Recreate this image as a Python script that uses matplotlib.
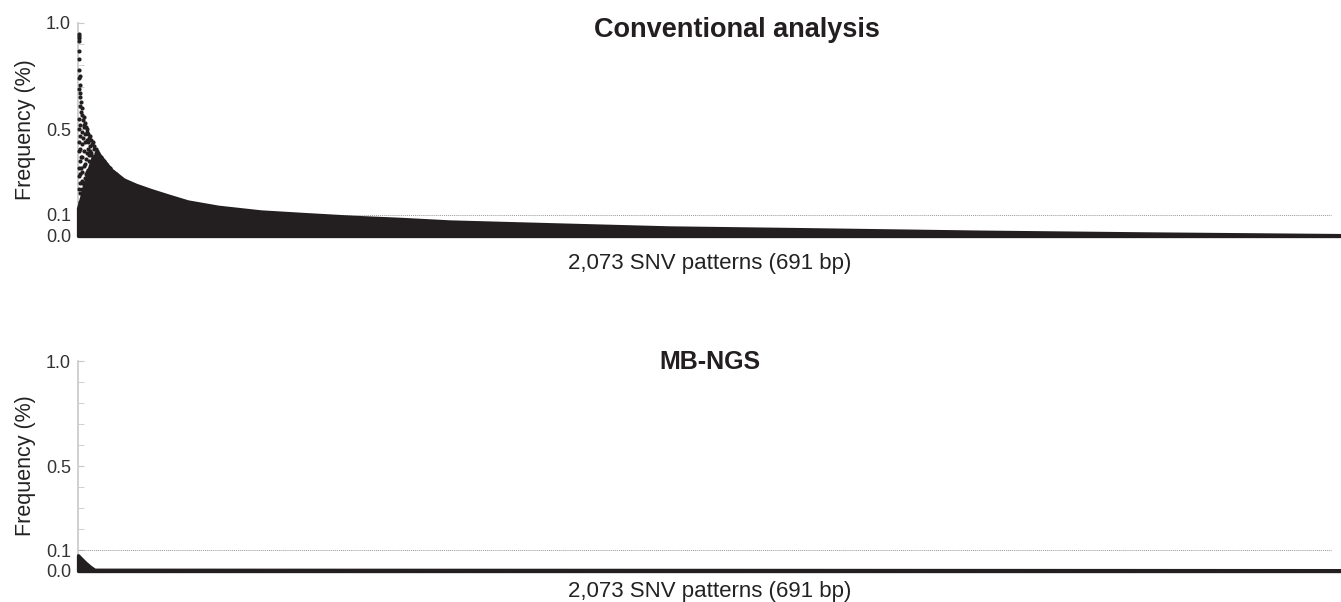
import numpy as np
import matplotlib.pyplot as plt
from matplotlib.ticker import FixedLocator

plt.rcParams['font.family'] = ['Liberation Sans', 'DejaVu Sans']

n_patterns = 2073
xlabel_text = "2,073 SNV patterns (691 bp)"
titles = ["Conventional analysis", "MB-NGS"]
ytick_vals = [0.0, 0.1, 0.5, 1.0]
ytick_labels = ["0.0", "0.1", "0.5", "1.0"]
cutoff = 0.1

# conventional analysis: upper edge of the dark band (pattern index, frequency %)
conv_band_idx = [0, 8, 16, 24, 32, 42, 55, 75, 95, 120, 150, 180, 230, 300, 370,
                 450, 530, 610, 775, 970, 1185, 1485, 1750, 2073]
conv_band_top = [0.13, 0.21, 0.30, 0.37, 0.39, 0.355, 0.31, 0.265, 0.24, 0.215, 0.188,
                 0.162, 0.137, 0.115, 0.103, 0.09, 0.08, 0.068, 0.055, 0.04, 0.032,
                 0.02, 0.012, 0.004]

# conventional analysis: single dots above the band at the left end
conv_dot_idx = [1, 1, 2, 1, 2, 2, 2, 3, 2, 3, 2, 4, 3, 5, 4, 6, 5, 7, 9, 8, 11, 10, 13,
                15, 14, 17, 19, 18, 22, 24, 23, 27, 29, 31, 33, 35, 37, 40, 43, 46,
                1, 2, 3, 1, 4, 6, 8, 10, 12, 7, 3, 5, 9, 13, 16, 18, 20, 15, 2, 6, 11,
                21, 24, 26, 28, 1, 4, 8, 12, 17, 19, 23, 25, 30, 32, 34, 36, 38, 40,
                3, 7, 10, 14, 2, 5, 20, 27, 33, 42, 44,
                4, 6, 9, 11, 14, 16, 19, 21, 26, 29, 31, 35, 39, 48, 52, 58, 62,
                2, 5, 7, 12, 15, 18, 22, 25, 28, 3, 6, 9, 13, 17, 21, 1, 4, 8, 11]
conv_dot_val = [0.95, 0.94, 0.93, 0.915, 0.87, 0.83, 0.78, 0.75, 0.74, 0.71, 0.69, 0.67,
                0.65, 0.63, 0.61, 0.60, 0.58, 0.57, 0.56, 0.545, 0.53, 0.52, 0.51, 0.50,
                0.49, 0.48, 0.47, 0.46, 0.45, 0.44, 0.43, 0.42, 0.41, 0.40, 0.39, 0.38,
                0.37, 0.36, 0.35, 0.34,
                0.55, 0.50, 0.47, 0.44, 0.41, 0.43, 0.46, 0.40, 0.44, 0.37, 0.35, 0.32,
                0.33, 0.36, 0.41, 0.38, 0.42, 0.30, 0.28, 0.26, 0.27, 0.33, 0.36, 0.31,
                0.35, 0.22, 0.20, 0.21, 0.19, 0.23, 0.27, 0.25, 0.21, 0.28, 0.33, 0.30,
                0.26, 0.31, 0.28, 0.16, 0.15, 0.17, 0.16, 0.13, 0.12, 0.18, 0.17, 0.22,
                0.24, 0.30,
                0.52, 0.49, 0.51, 0.48, 0.45, 0.44, 0.40, 0.39, 0.41, 0.39, 0.37, 0.35,
                0.34, 0.33, 0.32, 0.30, 0.29,
                0.40, 0.37, 0.30, 0.34, 0.39, 0.35, 0.38, 0.34, 0.32, 0.25, 0.22, 0.24,
                0.29, 0.31, 0.28, 0.32, 0.29, 0.25, 0.23]

# MB-NGS: upper edge of the dark band
mb_band_idx = [0, 5, 12, 20, 27, 2073]
mb_band_top = [0.075, 0.06, 0.04, 0.02, 0.006, 0.004]

fig = plt.figure(figsize=(13.41, 6.02), dpi=100)
ax1 = fig.add_axes([0.0582, 0.608, 0.9418, 0.354])
ax2 = fig.add_axes([0.0582, 0.0515, 0.9418, 0.3485])

panels = [
    (ax1, conv_band_idx, conv_band_top, conv_dot_idx, conv_dot_val, 12),
    (ax2, mb_band_idx, mb_band_top, [], [], 7),
]

for (ax, bidx, btop, didx, dval, xpad), title in zip(panels, titles):
    ax.fill_between(bidx, 0, btop, color='#231f20', linewidth=2.4,
                    edgecolor='#231f20', clip_on=False, zorder=3)
    if didx:
        ax.scatter(didx, dval, s=9, color='#231f20', linewidths=0, zorder=4,
                   clip_on=False)
    ax.hlines(cutoff, 0, n_patterns - 16, colors='#999999', linestyles=(0, (1, 1)),
              linewidth=0.7, zorder=2)
    ax.set_xlim(0, n_patterns)
    ax.set_ylim(0, 1.0)
    for s in ['top', 'right', 'bottom']:
        ax.spines[s].set_visible(False)
    ax.spines['left'].set_color('#c8c8c8')
    ax.spines['left'].set_linewidth(1.2)
    ax.set_xticks([])
    ax.yaxis.set_major_locator(FixedLocator(ytick_vals))
    ax.set_yticklabels(ytick_labels)
    ax.yaxis.set_minor_locator(FixedLocator(np.arange(0.2, 1.0, 0.1)))
    ax.tick_params(axis='y', which='both', direction='in', length=4, color='#c8c8c8',
                   labelsize=13, labelcolor='#333333', pad=5)
    ax.set_ylabel("Frequency (%)", fontsize=15.5, color='#222222', labelpad=7)
    ax.set_xlabel(xlabel_text, fontsize=16, color='#222222', labelpad=xpad)

ax1.text(0.522, 0.965, titles[0], transform=ax1.transAxes, ha='center', va='center',
         fontsize=19.5, fontweight='bold', color='#231f20')
ax2.text(0.5, 0.995, titles[1], transform=ax2.transAxes, ha='center', va='center',
         fontsize=18, fontweight='bold', color='#231f20')

fig.savefig("out.png", dpi=100)
